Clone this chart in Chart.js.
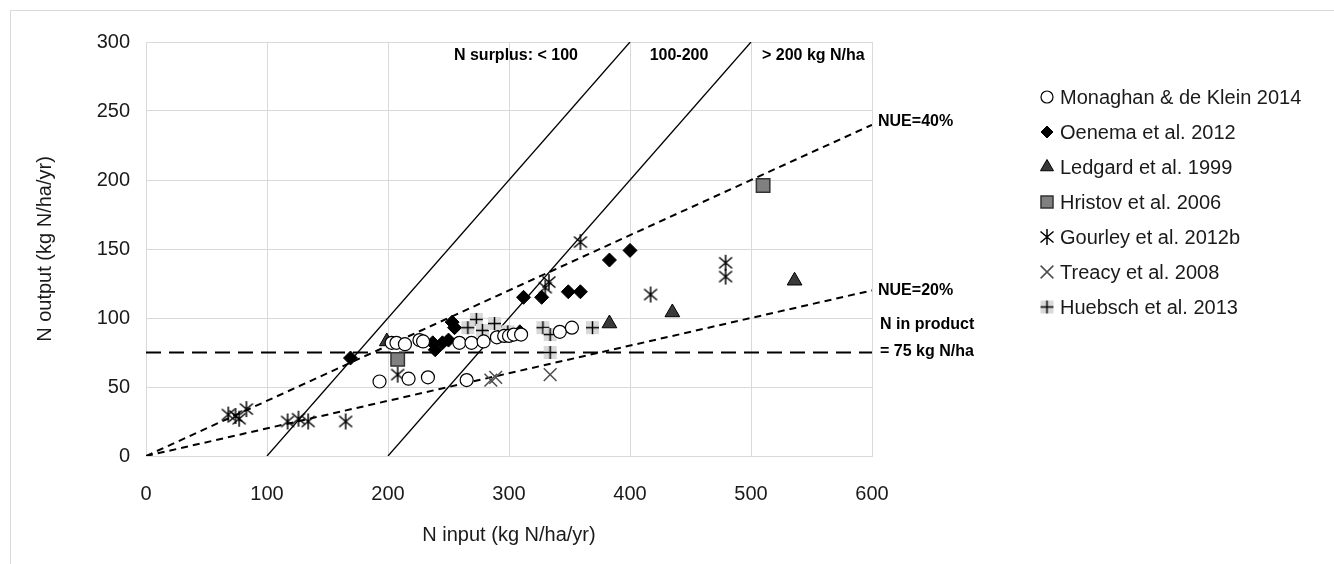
<!DOCTYPE html>
<html lang="en">
<head>
<meta charset="UTF-8">
<title>N input vs N output</title>
<script src="https://cdn.jsdelivr.net/npm/chart.js"></script>
<style>
    html, body { margin: 0; padding: 0; background: #fff; }
    .chart-box { position: relative; width: 1334px; height: 564px; }
    .frame { position: absolute; left: 10px; top: 10px; right: 0; bottom: 0; border-left: 1px solid #d9d9d9; border-top: 1px solid #d9d9d9; pointer-events: none; }
</style>
</head>
<body>
<div class="chart-box">
    <canvas id="nueChart" width="1334" height="564"></canvas>
    <div class="frame"></div>
</div>

<script>
    // Study data (N input, N output), kg N/ha/yr
    const monaghanX = [193, 203, 207, 214, 217, 226, 229, 233, 259, 265, 269, 279, 290, 296, 300, 304, 310, 342, 352];
    const monaghanY = [54, 82, 82, 81, 56, 84, 83, 57, 82, 55, 82, 83, 86, 87, 87, 88, 88, 90, 93];
    const oenemaX = [169, 237, 239, 245, 250, 253, 255, 309, 312, 327, 349, 359, 383, 400];
    const oenemaY = [71, 82, 77, 82, 84, 97, 93, 90, 115, 115, 119, 119, 142, 149];
    const ledgardX = [199, 383, 435, 536];
    const ledgardY = [83, 96, 104, 127];
    const hristovX = [208, 510];
    const hristovY = [70, 196];
    const gourleyX = [68, 74, 77, 83, 117, 126, 134, 165, 208, 330, 333, 359, 417, 479, 479];
    const gourleyY = [30, 29, 27, 34, 25, 27, 25, 25, 59, 122, 126, 155, 117, 140, 130];
    const treacyX = [285, 289, 334];
    const treacyY = [55, 57, 59];
    const huebschX = [266, 273, 278, 288, 299, 328, 334, 334, 369];
    const huebschY = [93, 99, 91, 96, 90, 93, 88, 75, 93];

    // Reference lines
    const surplus100X = [100, 400];
    const surplus100Y = [0, 300];
    const surplus200X = [200, 500];
    const surplus200Y = [0, 300];
    const nue40X = [0, 600];
    const nue40Y = [0, 240];
    const nue20X = [0, 600];
    const nue20Y = [0, 120];
    const productX = [0, 600];
    const productY = [75, 75];

    const xTicks = [0, 100, 200, 300, 400, 500, 600];
    const yTicks = [0, 50, 100, 150, 200, 250, 300];
    const surplusLabels = ['N surplus: < 100', '100-200', '> 200 kg N/ha'];

    function toPoints(xs, ys) {
        return xs.map((x, i) => ({ x: x, y: ys[i] }));
    }

    // asterisk marker (vertical bar + X)
    function makeStar() {
        const c = document.createElement('canvas');
        c.width = 16; c.height = 18;
        const g = c.getContext('2d');
        g.strokeStyle = '#000';
        g.lineWidth = 1.5;
        g.beginPath();
        g.moveTo(8, 1); g.lineTo(8, 17);
        g.moveTo(1.5, 3.5); g.lineTo(14.5, 14.5);
        g.moveTo(14.5, 3.5); g.lineTo(1.5, 14.5);
        g.stroke();
        return c;
    }

    // grey square with a plus
    function makePlus() {
        const c = document.createElement('canvas');
        c.width = 15; c.height = 15;
        const g = c.getContext('2d');
        g.fillStyle = '#d9d9d9';
        g.fillRect(1, 1, 13, 13);
        g.strokeStyle = '#000';
        g.lineWidth = 1.5;
        g.beginPath();
        g.moveTo(7.5, 1); g.lineTo(7.5, 14);
        g.moveTo(1, 7.5); g.lineTo(14, 7.5);
        g.stroke();
        return c;
    }

    const starIcon = makeStar();
    const plusIcon = makePlus();
    const font = '"Liberation Sans", Arial, sans-serif';

    function refLine(xs, ys, dash, width) {
        return {
            type: 'line',
            data: toPoints(xs, ys),
            showLine: true,
            borderColor: '#000',
            borderWidth: width,
            borderDash: dash,
            pointRadius: 0,
            fill: false,
            inLegend: false
        };
    }

    const overlay = {
        id: 'overlay',
        afterDraw(chart) {
            const ctx = chart.ctx;
            const area = chart.chartArea;
            const ys = chart.scales.y;
            ctx.save();
            ctx.fillStyle = '#000';
            ctx.textBaseline = 'middle';
            ctx.font = 'bold 16px ' + font;

            // surplus zone labels along the top
            ctx.textAlign = 'right';
            ctx.fillText(surplusLabels[0], 578, 56);
            ctx.textAlign = 'center';
            ctx.fillText(surplusLabels[1], 679, 56);
            ctx.textAlign = 'left';
            ctx.fillText(surplusLabels[2], 762, 56);

            // line labels at the right end
            ctx.fillText('NUE=40%', area.right + 6, ys.getPixelForValue(nue40Y[1]) - 3);
            ctx.fillText('NUE=20%', area.right + 6, ys.getPixelForValue(nue20Y[1]));
            ctx.fillText('N in product', area.right + 8, ys.getPixelForValue(productY[1]) - 28);
            ctx.fillText('= 75 kg N/ha', area.right + 8, ys.getPixelForValue(productY[1]) - 1);

            // legend
            ctx.font = '20px ' + font;
            ctx.fillStyle = '#1a1a1a';
            let row = 0;
            chart.data.datasets.forEach(ds => {
                if (ds.inLegend === false) return;
                const ly = 97 + row * 35;
                ctx.save();
                ctx.fillStyle = ds.backgroundColor || '#000';
                ctx.strokeStyle = ds.borderColor || '#000';
                ctx.lineWidth = ds.borderWidth || 1;
                Chart.helpers.drawPoint(ctx, {
                    pointStyle: ds.pointStyle,
                    radius: ds.legendRadius || ds.pointRadius,
                    rotation: 0,
                    borderWidth: ds.borderWidth || 1
                }, 1047, ly);
                ctx.restore();
                ctx.fillText(ds.label, 1060, ly + 1);
                row++;
            });
            ctx.restore();
        }
    };

    const ctx = document.getElementById('nueChart').getContext('2d');
    new Chart(ctx, {
        type: 'scatter',
        data: {
            datasets: [
                { label: 'Monaghan & de Klein 2014', data: toPoints(monaghanX, monaghanY), pointStyle: 'circle', pointRadius: 6.5, legendRadius: 6, backgroundColor: '#fff', borderColor: '#000', borderWidth: 1.2 },
                { label: 'Oenema et al. 2012', data: toPoints(oenemaX, oenemaY), pointStyle: 'rectRot', pointRadius: 7, legendRadius: 6, backgroundColor: '#000', borderColor: '#000', borderWidth: 1 },
                { label: 'Ledgard et al. 1999', data: toPoints(ledgardX, ledgardY), pointStyle: 'triangle', pointRadius: 8.5, legendRadius: 7.5, backgroundColor: '#3a3a3a', borderColor: '#000', borderWidth: 1 },
                { label: 'Hristov et al. 2006', data: toPoints(hristovX, hristovY), pointStyle: 'rect', pointRadius: 9.5, legendRadius: 8.5, backgroundColor: '#808080', borderColor: '#333', borderWidth: 1.5 },
                { label: 'Gourley et al. 2012b', data: toPoints(gourleyX, gourleyY), pointStyle: starIcon, pointRadius: 8, backgroundColor: '#000', borderColor: '#000' },
                { label: 'Treacy et al. 2008', data: toPoints(treacyX, treacyY), pointStyle: 'crossRot', pointRadius: 9, legendRadius: 9, backgroundColor: '#4d4d4d', borderColor: '#4d4d4d', borderWidth: 1.5 },
                { label: 'Huebsch et al. 2013', data: toPoints(huebschX, huebschY), pointStyle: plusIcon, pointRadius: 8, backgroundColor: '#d9d9d9', borderColor: '#000' },
                refLine(surplus100X, surplus100Y, [], 1.3),
                refLine(surplus200X, surplus200Y, [], 1.3),
                refLine(nue40X, nue40Y, [7, 5], 2),
                refLine(nue20X, nue20Y, [7, 5], 2),
                refLine(productX, productY, [15, 8], 2.2)
            ]
        },
        options: {
            responsive: false,
            animation: false,
            events: [],
            layout: { padding: { left: 0, right: 462, top: 42, bottom: 0 } },
            plugins: { legend: { display: false }, tooltip: { enabled: false } },
            scales: {
                x: {
                    type: 'linear',
                    min: 0, max: 600,
                    afterFit: s => { s.height = 108; },
                    afterBuildTicks: s => { s.ticks = xTicks.map(v => ({ value: v })); },
                    grid: { color: '#d9d9d9', lineWidth: 1, drawTicks: false },
                    border: { color: '#d9d9d9' },
                    ticks: { color: '#1a1a1a', padding: 26, font: { size: 20, family: font } },
                    title: { display: true, text: 'N input (kg N/ha/yr)', color: '#1a1a1a', font: { size: 20, family: font }, padding: { top: 0, bottom: 17 } }
                },
                y: {
                    type: 'linear',
                    min: 0, max: 300,
                    afterFit: s => { s.width = 146; },
                    afterBuildTicks: s => { s.ticks = yTicks.map(v => ({ value: v })); },
                    grid: { color: '#d9d9d9', lineWidth: 1, drawTicks: false },
                    border: { color: '#d9d9d9' },
                    ticks: { color: '#1a1a1a', padding: 16, font: { size: 20, family: font } },
                    title: { display: true, text: 'N output (kg N/ha/yr)', color: '#1a1a1a', font: { size: 20, family: font }, padding: { top: 33, bottom: 0 } }
                }
            }
        },
        plugins: [overlay]
    });
</script>
</body>
</html>
